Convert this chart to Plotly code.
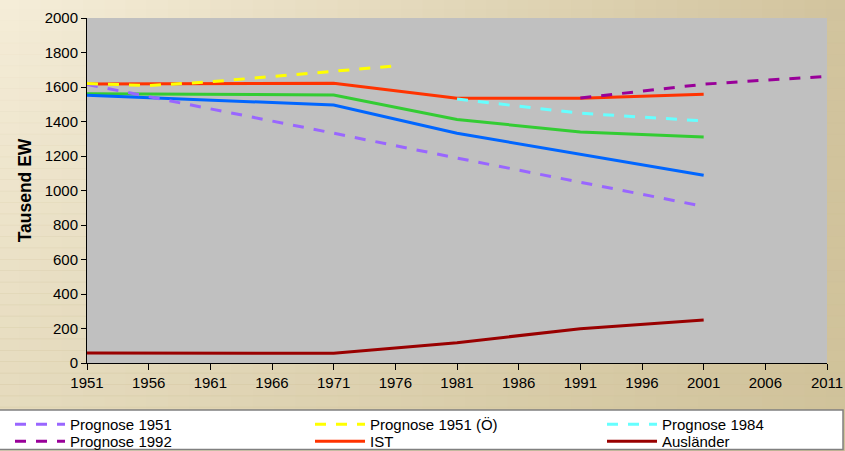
import plotly.graph_objects as go

# ─── Data (Tausend Einwohner) ────────────────────────────────────────────────

years_full = [1951, 1961, 1971, 1981, 1991, 2001]

prognose_1951 = [1615, 1475, 1332, 1188, 1046, 908]

years_prog_oe = [1951, 1956, 1961, 1966, 1971, 1976]
prognose_1951_oe = [1620, 1608, 1630, 1662, 1692, 1722]

years_prog_84 = [1981, 1991, 2001]
prognose_1984 = [1530, 1448, 1403]

years_prog_92 = [1991, 2001, 2006, 2011]
prognose_1992 = [1536, 1616, 1640, 1661]

ist = [1618, 1622, 1622, 1535, 1535, 1558]
auslaender = [58, 57, 56, 118, 199, 250]
oesterreicher = [1561, 1557, 1554, 1412, 1339, 1310]
einheimische = [1552, 1524, 1496, 1332, 1211, 1089]

x_ticks = list(range(1951, 2012, 5))
y_ticks = list(range(0, 2001, 200))

# ─── Styling ─────────────────────────────────────────────────────────────────

FONT = "Liberation Sans, Arial, sans-serif"
DASH = "11px,10px"
LW = 3

# page geometry (px) used to express paper coordinates
L, R, T, B = 87, 18, 18, 88
PW, PH = 845 - L - R, 451 - T - B

# legend grid: column x (px) and row top y (px); Excel packs rows tighter
LEG_COL_X = [10, 310, 602]
LEG_ROW_Y = [408, 425, 442]


def px_x(p):
    return (p - L) / PW


def px_y(p):
    return (451 - B - p) / PH


def lerp_color(c1, c2, t):
    a = [int(c1[i:i + 2], 16) for i in (1, 3, 5)]
    b = [int(c2[i:i + 2], 16) for i in (1, 3, 5)]
    return "rgb({},{},{})".format(*[round(a[k] + (b[k] - a[k]) * t) for k in range(3)])


legends = {}


def line(x, y, name, color, slot, dash=None):
    """slot = index in the row-major 3-column legend grid."""
    key = "legend" if slot == 0 else f"legend{slot + 1}"
    row, col = divmod(slot, 3)
    legends[key] = dict(
        orientation="v",
        x=px_x(LEG_COL_X[col]), xanchor="left",
        y=px_y(LEG_ROW_Y[row]), yanchor="top",
        itemwidth=50,
        bgcolor="rgba(0,0,0,0)",
        font=dict(family=FONT, size=15, color="black"),
    )
    return go.Scatter(x=x, y=y, name=name, mode="lines",
                      line=dict(color=color, width=LW, dash=dash), legend=key)


fig = go.Figure()

# solid series first, dashed projections on top
fig.add_trace(line(years_full, oesterreicher, "Österreicher (ohne Änderung)", "#33CC33", 6))
fig.add_trace(line(years_full, einheimische, "Einheimische", "#0066FF", 7))
fig.add_trace(line(years_full, ist, "IST", "#FF3300", 4))
fig.add_trace(line(years_full, auslaender, "Ausländer", "#990000", 5))
fig.add_trace(line(years_full, prognose_1951, "Prognose 1951", "#9966FF", 0, DASH))
fig.add_trace(line(years_prog_oe, prognose_1951_oe, "Prognose 1951 (Ö)", "#FFFF00", 1, DASH))
fig.add_trace(line(years_prog_84, prognose_1984, "Prognose 1984", "#66FFFF", 2, DASH))
fig.add_trace(line(years_prog_92, prognose_1992, "Prognose 1992", "#990099", 3, DASH))

# ─── Background: beige gradient, gray plot area, white legend strip ──────────

shapes = []
n = 40
x_lo, x_hi = px_x(-2), px_x(847)
y_lo, y_hi = px_y(453), px_y(-2)
for i in range(n):
    t = i / (n - 1)
    shapes.append(dict(type="rect", xref="paper", yref="paper", layer="below",
                       x0=x_lo + (x_hi - x_lo) * i / n, x1=x_lo + (x_hi - x_lo) * (i + 1) / n + 0.002,
                       y0=y_lo, y1=y_hi, line_width=0,
                       fillcolor=lerp_color("#F5EDD8", "#D2C49E", t)))
for i in range(n):
    t = i / (n - 1)
    shapes.append(dict(type="rect", xref="paper", yref="paper", layer="below",
                       x0=x_lo, x1=x_hi,
                       y0=y_hi - (y_hi - y_lo) * (i + 1) / n, y1=y_hi - (y_hi - y_lo) * i / n + 0.002,
                       line_width=0, fillcolor=f"rgba(206,192,150,{0.45 * t:.3f})"))
shapes.append(dict(type="rect", xref="x domain", yref="y domain", layer="below",
                   x0=0, x1=1, y0=0, y1=1, line_width=0, fillcolor="#C0C0C0"))
shapes.append(dict(type="rect", xref="paper", yref="paper", layer="below",
                   x0=px_x(-2), x1=px_x(843), y0=px_y(449.5), y1=px_y(410),
                   fillcolor="white", line=dict(color="#808080", width=1.5)))

fig.update_layout(
    width=845,
    height=451,
    margin=dict(l=L, r=R, t=T, b=B, autoexpand=False),
    paper_bgcolor="#E4D9BC",
    plot_bgcolor="rgba(0,0,0,0)",
    font=dict(family=FONT, size=15, color="black"),
    shapes=shapes,
    showlegend=True,
    **legends,
    xaxis=dict(
        range=[1951, 2011],
        tickmode="array", tickvals=x_ticks, ticktext=[str(v) for v in x_ticks],
        ticks="outside", ticklen=6, tickcolor="black", tickwidth=1,
        showline=True, linecolor="black", linewidth=1,
        showgrid=False, zeroline=False,
        tickfont=dict(size=15),
    ),
    yaxis=dict(
        range=[0, 2000],
        tickmode="array", tickvals=y_ticks,
        ticks="outside", ticklen=5, tickcolor="black", tickwidth=1,
        showline=True, linecolor="black", linewidth=1,
        showgrid=False, zeroline=False,
        tickfont=dict(size=15),
        title=dict(text="<b>Tausend EW</b>", font=dict(size=17.5), standoff=8),
    ),
)

# the page's default 8px body margin would shift the chart
fig.write_html("out.html", config={"displayModeBar": False},
               post_script="document.body.style.margin='0';")
